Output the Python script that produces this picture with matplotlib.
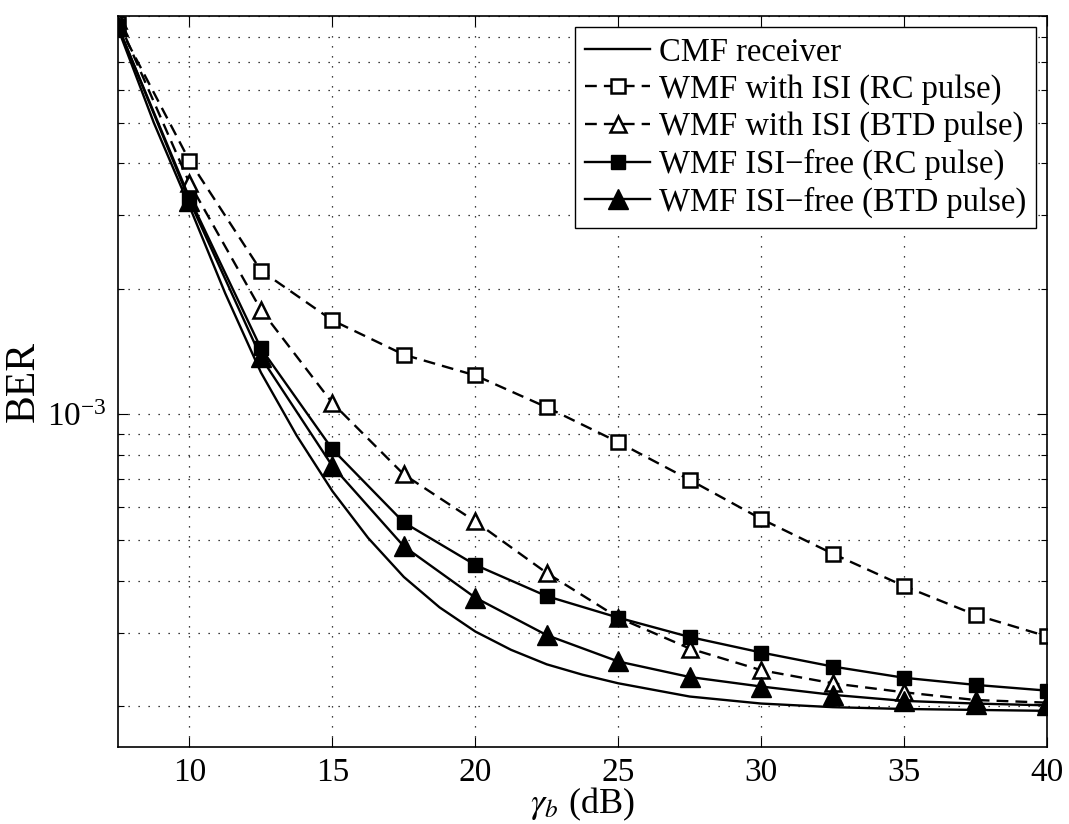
import numpy as np
import matplotlib
matplotlib.use("Agg")
import matplotlib.pyplot as plt
from matplotlib.ticker import LogLocator, NullFormatter, FixedLocator

plt.rcParams['font.family'] = ['Liberation Serif', 'DejaVu Serif']
plt.rcParams['mathtext.fontset'] = 'stix'

# ---- data ----
snr = [7.5, 10, 12.5, 15, 17.5, 20, 22.5, 25, 27.5, 30, 32.5, 35, 37.5, 40]

cmf_snr = [7.5, 8.75, 10, 11.25, 12.5, 13.75, 15, 16.25, 17.5, 18.75, 20, 21.25,
           22.5, 23.75, 25, 27.5, 30, 32.5, 35, 37.5, 40]
cmf_ber = [8.4e-3, 5.0e-3, 3.15e-3, 1.95e-3, 1.26e-3, 8.9e-4, 6.55e-4, 5.06e-4,
           4.08e-4, 3.45e-4, 3.02e-4, 2.73e-4, 2.52e-4, 2.38e-4, 2.27e-4, 2.11e-4,
           2.03e-4, 1.99e-4, 1.97e-4, 1.96e-4, 1.95e-4]

wmf_isi_rc = [8.6e-3, 4.05e-3, 2.21e-3, 1.68e-3, 1.39e-3, 1.24e-3, 1.04e-3,
              8.58e-4, 6.97e-4, 5.62e-4, 4.64e-4, 3.88e-4, 3.31e-4, 2.94e-4]
wmf_isi_btd = [8.8e-3, 3.58e-3, 1.78e-3, 1.065e-3, 7.18e-4, 5.54e-4, 4.17e-4,
               3.26e-4, 2.75e-4, 2.44e-4, 2.27e-4, 2.16e-4, 2.07e-4, 2.04e-4]
wmf_free_rc = [8.5e-3, 3.3e-3, 1.44e-3, 8.25e-4, 5.51e-4, 4.36e-4, 3.67e-4,
               3.26e-4, 2.93e-4, 2.69e-4, 2.49e-4, 2.34e-4, 2.25e-4, 2.18e-4]
wmf_free_btd = [8.5e-3, 3.25e-3, 1.37e-3, 7.52e-4, 4.83e-4, 3.64e-4, 2.96e-4,
                2.56e-4, 2.35e-4, 2.23e-4, 2.13e-4, 2.06e-4, 2.03e-4, 2.01e-4]

labels = ['CMF receiver', 'WMF with ISI (RC pulse)', 'WMF with ISI (BTD pulse)',
          'WMF ISI\u2212free (RC pulse)', 'WMF ISI\u2212free (BTD pulse)']

# ---- plot ----
fig = plt.figure(figsize=(10.69, 8.24), dpi=100)
ax = fig.add_axes([0.1104, 0.0938, 0.8690, 0.8868])

lw = 1.7
dash = (0, (5, 3))
ax.plot(cmf_snr, cmf_ber, '-', color='k', lw=lw, label=labels[0])
ax.plot(snr, wmf_isi_rc, linestyle=dash, color='k', lw=lw, marker='s', ms=10,
        mfc='white', mec='k', mew=1.8, label=labels[1])
ax.plot(snr, wmf_isi_btd, linestyle=dash, color='k', lw=lw, marker='^', ms=12,
        mfc='white', mec='k', mew=1.8, label=labels[2])
ax.plot(snr, wmf_free_rc, '-', color='k', lw=lw, marker='s', ms=10,
        mfc='k', mec='k', label=labels[3])
ax.plot(snr, wmf_free_btd, '-', color='k', lw=lw, marker='^', ms=14,
        mfc='k', mec='k', label=labels[4])

ax.set_yscale('log')
ax.set_xlim(7.5, 40)
ax.set_ylim(1.6e-4, 9e-3)
ax.xaxis.set_major_locator(FixedLocator([10, 15, 20, 25, 30, 35, 40]))
ax.yaxis.set_major_locator(LogLocator(base=10))
ax.yaxis.set_minor_locator(LogLocator(base=10, subs=np.arange(2, 10)))
ax.yaxis.set_minor_formatter(NullFormatter())

grid_style = dict(color='k', linestyle=(0, (1, 7)), linewidth=0.9)
ax.grid(True, which='major', axis='both', **grid_style)
ax.grid(True, which='minor', axis='y', **grid_style)

ax.tick_params(which='both', direction='in', top=True, right=True,
               labelsize=24, width=0.8)
ax.tick_params(which='major', length=7, pad=8)
ax.tick_params(which='minor', length=4)
for s in ax.spines.values():
    s.set_linewidth(1.2)

ax.set_xlabel(r'$\gamma_b$ (dB)', fontsize=26, labelpad=-2)
ax.set_ylabel('BER', fontsize=30, labelpad=3)

leg = ax.legend(loc='upper right', fontsize=23.5, frameon=True, fancybox=False,
                edgecolor='k', framealpha=1, labelspacing=0.2,
                handlelength=2.0, handletextpad=0.25, borderpad=0.3,
                borderaxespad=0.35)
leg.get_frame().set_linewidth(1.0)

fig.savefig('out.png', dpi=100)
